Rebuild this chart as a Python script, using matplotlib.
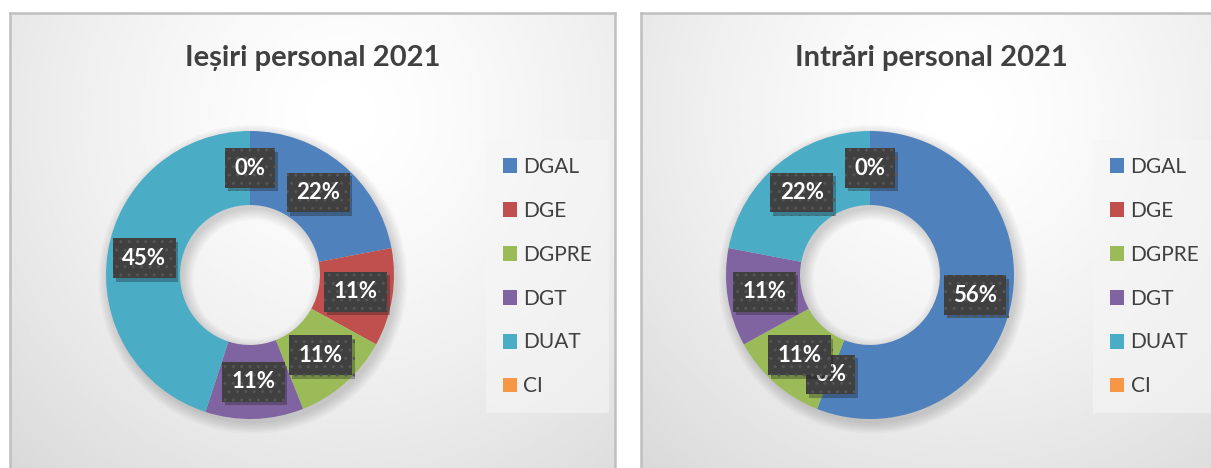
import numpy as np
import matplotlib.pyplot as plt
import matplotlib.patheffects as pe
from matplotlib.patches import Wedge

W, H = 1211, 468
FONT = ["Lato", "DejaVu Sans"]
TXT = "#404040"

categories = ["DGAL", "DGE", "DGPRE", "DGT", "DUAT", "CI"]
colors = ["#4F81BD", "#C0504D", "#9BBB59", "#8064A2", "#4BACC6", "#F79646"]
iesiri = [22, 11, 11, 11, 45, 0]
intrari = [56, 0, 11, 11, 22, 0]

fig = plt.figure(figsize=(W / 100, H / 100), dpi=100)


def px_axes(x0, y0, w, h):
    # pixel box, measured from the top-left corner of the picture
    return fig.add_axes([x0 / W, 1 - (y0 + h) / H, w / W, h / H])


def panel(x0, x1, title, values, cx, cy, lx):
    ph = H - 13 + 6
    bg = px_axes(x0, 13, x1 - x0, ph)
    xs = np.linspace(0, x1 - x0, 240)
    ys = np.linspace(0, ph, 160)
    X, Y = np.meshgrid(xs, ys)
    d = np.hypot(X - 0.55 * (x1 - x0), Y - 0.22 * ph)
    g = 1 - 0.15 * (d / d.max()) ** 1.4
    bg.imshow(g, cmap="gray", vmin=0, vmax=1, extent=(0, 1, 0, 1), aspect="auto")
    bg.set_xlim(0, 1)
    bg.set_ylim(0, 1)
    bg.set_xticks([])
    bg.set_yticks([])
    for s in bg.spines.values():
        s.set_color("#BFBFBF")
        s.set_linewidth(1.8)
    bg.spines["bottom"].set_visible(False)

    fig.text((x0 + x1) / 2 / W, 1 - 66 / H, title, ha="center", va="baseline",
             fontsize=21, fontweight="bold", color=TXT, family=FONT)

    pa = px_axes(cx - 180, cy - 180, 360, 360)
    for k in range(7):
        pa.add_patch(Wedge((0.02, -0.03), 1 + 0.012 * k, 0, 360,
                           width=0.514 + 0.024 * k, fc="black", alpha=0.025, lw=0))
    wedges, _ = pa.pie(values, colors=colors, startangle=90, counterclock=False,
                       radius=1, wedgeprops=dict(width=0.514, linewidth=0))
    pa.set_xlim(-1.25, 1.25)
    pa.set_ylim(-1.25, 1.25)
    pa.axis("off")

    for i, (w, v) in enumerate(zip(wedges, values)):
        ang = np.deg2rad((w.theta1 + w.theta2) / 2)
        t = pa.text(0.743 * np.cos(ang), 0.743 * np.sin(ang), f"{v}%",
                    ha="center", va="center", fontsize=16, fontweight="bold",
                    color="white", family=FONT, zorder=5 + i,
                    bbox=dict(boxstyle="square,pad=0.42", fc="#404040",
                              ec="#555555", hatch="..", lw=0))
        t.get_bbox_patch().set_path_effects(
            [pe.SimplePatchShadow(offset=(2, -2.5), alpha=0.3), pe.Normal()])

    pa.legend(wedges, categories, loc="upper left",
              bbox_to_anchor=(lx / W, 1 - 140 / H), bbox_transform=fig.transFigure,
              frameon=True, facecolor="#F6F6F6", edgecolor="none", framealpha=0.6,
              fancybox=False, handlelength=0.7, handleheight=0.7, handletextpad=0.3,
              labelspacing=1.15, borderpad=0.8, borderaxespad=0,
              prop=dict(family=FONT, size=15), labelcolor=TXT)


panel(10, 615, "Ieșiri personal 2021", iesiri, 250, 275, 486)
panel(641, 1222, "Intrări personal 2021", intrari, 870, 275, 1093)

fig.savefig("out.png", dpi=100)
